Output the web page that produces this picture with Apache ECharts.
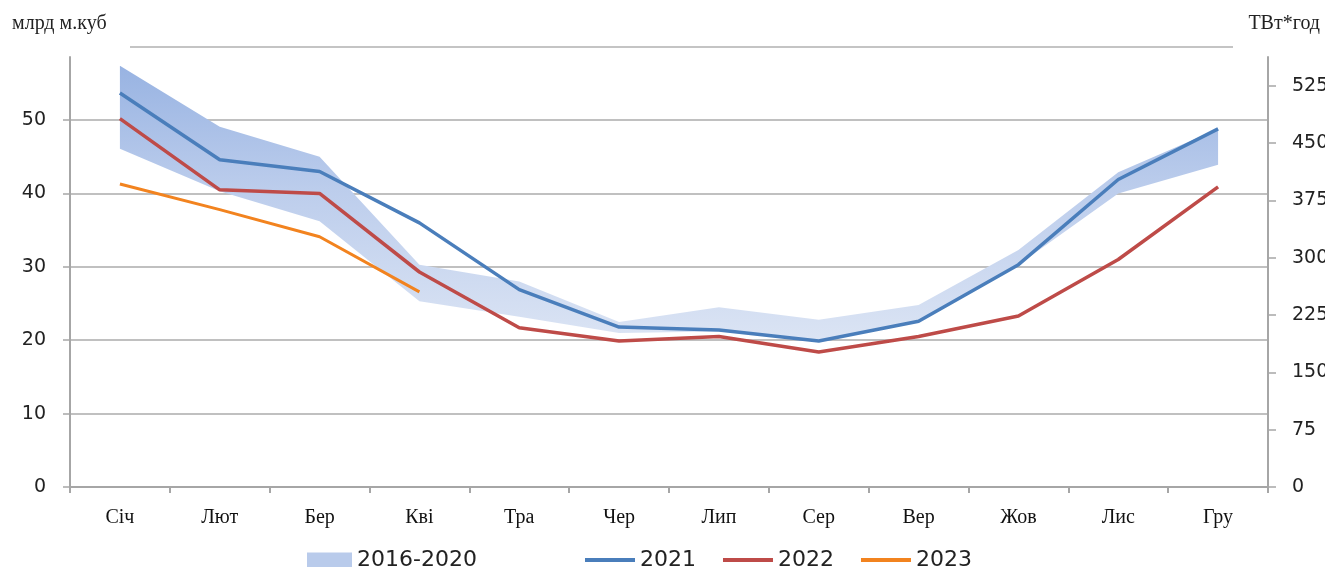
<!DOCTYPE html>
<html>
<head>
<meta charset="utf-8">
<script src="https://cdn.jsdelivr.net/npm/echarts@6/dist/echarts.min.js"></script>
<style>
html,body{margin:0;padding:0;background:#fff;overflow:hidden;}
#chart{width:1325px;height:567px;}
</style>
</head>
<body>
<div id="chart"></div>
<script>
const categories = ['Січ','Лют','Бер','Кві','Тра','Чер','Лип','Сер','Вер','Жов','Лис','Гру'];
const band2016_2020Low  = [46.1, 40.3, 36.2, 25.3, 23.2, 21.0, 21.2, 20.0, 22.5, 30.3, 40.0, 43.9];
const band2016_2020High = [57.4, 49.1, 45.0, 30.3, 28.0, 22.5, 24.5, 22.8, 24.8, 32.3, 42.9, 48.8];
const y2021 = [53.7, 44.6, 43.0, 36.0, 26.9, 21.8, 21.4, 19.9, 22.6, 30.3, 41.9, 48.8];
const y2022 = [50.2, 40.5, 40.0, 29.3, 21.7, 19.9, 20.5, 18.4, 20.5, 23.3, 31.0, 40.9];
const y2023 = [41.3, 37.8, 34.1, 26.6];
const leftTitle = 'млрд м.куб';
const rightTitle = 'ТВт*год';

const bandDiff = band2016_2020High.map((v, i) => +(v - band2016_2020Low[i]).toFixed(2));

const chart = echarts.init(document.getElementById('chart'), null, {renderer: 'canvas'});
const serif = '"Liberation Serif", "DejaVu Serif", serif';
const sans = '"DejaVu Sans", sans-serif';

chart.setOption({
  animation: false,
  backgroundColor: '#ffffff',
  title: [
    {text: leftTitle, left: 7, top: 9, textStyle: {fontFamily: serif, fontSize: 20, fontWeight: 'normal', color: '#222'}},
    {text: rightTitle, right: 0, top: 9, textStyle: {fontFamily: serif, fontSize: 20, fontWeight: 'normal', color: '#222'}}
  ],
  graphic: [
    {type: 'line', shape: {x1: 130, y1: 47, x2: 1233, y2: 47}, style: {stroke: '#c4c4c4', lineWidth: 2}, silent: true}
  ],
  grid: {left: 70, right: 57, top: 57, bottom: 80, containLabel: false, outerBoundsMode: 'none'},
  legend: [
    {
      left: 302, top: 544, itemWidth: 45, itemHeight: 15, itemGap: 30,
      textStyle: {fontFamily: sans, fontSize: 22, color: '#222'},
      data: [{name: '2016-2020', icon: 'rect', itemStyle: {color: '#b9cbeb'}}]
    },
    {
      left: 580, top: 544, itemWidth: 50, itemHeight: 4, itemGap: 27, icon: 'rect',
      textStyle: {fontFamily: sans, fontSize: 22, color: '#222'},
      data: ['2021', '2022', '2023']
    }
  ],
  xAxis: {
    type: 'category',
    data: categories,
    boundaryGap: true,
    axisLine: {show: true, lineStyle: {color: '#a6a6a6', width: 2}},
    axisTick: {show: true, length: 6, lineStyle: {color: '#a6a6a6', width: 2}},
    axisLabel: {fontFamily: serif, fontSize: 20, color: '#111', margin: 21}
  },
  yAxis: [
    {
      type: 'value', min: 0, max: 58.6, interval: 10, position: 'left',
      axisLine: {show: true, lineStyle: {color: '#a6a6a6', width: 2}},
      axisTick: {show: true, length: 7, lineStyle: {color: '#a6a6a6', width: 1.5}},
      axisLabel: {fontFamily: sans, fontSize: 19, color: '#222', margin: 24, showMaxLabel: false},
      splitLine: {show: true, showMaxLine: false, lineStyle: {color: '#c0c0c0', width: 2}}
    },
    {
      type: 'value', min: 0, max: 562.5, interval: 75, position: 'right',
      axisLine: {show: true, lineStyle: {color: '#a6a6a6', width: 2}},
      axisTick: {show: true, length: 8, lineStyle: {color: '#a6a6a6', width: 1.5}},
      axisLabel: {fontFamily: sans, fontSize: 19, color: '#222', margin: 24, showMaxLabel: false},
      splitLine: {show: false}
    }
  ],
  series: [
    {
      name: 'band-low', type: 'line', stack: 'band', data: band2016_2020Low,
      symbol: 'none', lineStyle: {opacity: 0}, silent: true, z: 1
    },
    {
      name: '2016-2020', type: 'line', stack: 'band', data: bandDiff,
      symbol: 'none', lineStyle: {opacity: 0}, silent: true, z: 1,
      itemStyle: {color: '#b9cbeb'},
      areaStyle: {
        opacity: 1,
        color: new echarts.graphic.LinearGradient(0, 0, 0, 1, [
          {offset: 0, color: '#98b3e2'},
          {offset: 0.45, color: '#bccdec'},
          {offset: 1, color: '#dbe4f4'}
        ])
      }
    },
    {
      name: '2021', type: 'line', data: y2021, symbol: 'none', z: 4,
      itemStyle: {color: '#4a7ebb'}, lineStyle: {color: '#4a7ebb', width: 3.5}
    },
    {
      name: '2022', type: 'line', data: y2022, symbol: 'none', z: 3,
      itemStyle: {color: '#be4b48'}, lineStyle: {color: '#be4b48', width: 3.5}
    },
    {
      name: '2023', type: 'line', data: y2023, symbol: 'none', z: 3,
      itemStyle: {color: '#f2831f'}, lineStyle: {color: '#f2831f', width: 3}
    }
  ]
});
</script>
</body>
</html>
